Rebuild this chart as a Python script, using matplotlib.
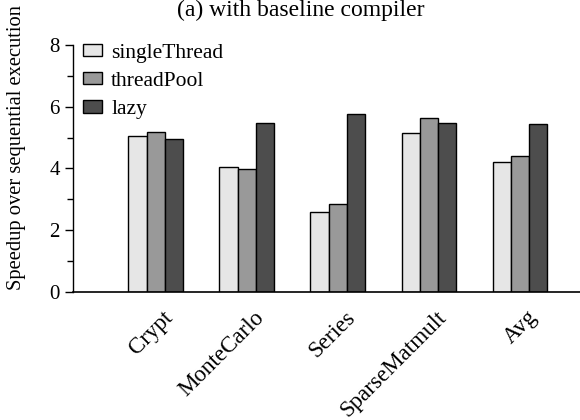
import matplotlib
matplotlib.use('Agg')
import matplotlib.pyplot as plt
from matplotlib.ticker import MultipleLocator
from matplotlib.transforms import ScaledTranslation
import numpy as np

plt.rcParams['font.family'] = ['Liberation Serif', 'DejaVu Serif']

# --- Data ---
benchmarks = ['Crypt', 'MonteCarlo', 'Series', 'SparseMatmult', 'Avg']
single_thread = [5.05, 4.05, 2.60, 5.15, 4.21]
thread_pool   = [5.18, 3.97, 2.85, 5.64, 4.41]
lazy          = [4.96, 5.48, 5.76, 5.48, 5.43]

series = [('singleThread', single_thread, '#e6e6e6'),
          ('threadPool', thread_pool, '#999999'),
          ('lazy', lazy, '#4d4d4d')]

# --- Figure ---
fig = plt.figure(figsize=(5.8, 4.2), dpi=100)
ax = fig.add_axes([0.126, 0.305, 0.874, 0.588])

x = np.arange(len(benchmarks))
width = 0.2
for k, (name, vals, color) in enumerate(series):
    ax.bar(x + (k - 1) * width, vals, width, label=name, color=color,
           edgecolor='black', linewidth=1.0)

ax.set_xlim(-0.907, 4.66)
ax.set_ylim(0, 8)
ax.yaxis.set_major_locator(MultipleLocator(2))
ax.yaxis.set_minor_locator(MultipleLocator(1))
ax.tick_params(axis='y', which='major', direction='out', length=6, width=1, labelsize=15)
ax.tick_params(axis='y', which='minor', direction='out', length=4, width=1)
ax.tick_params(axis='x', length=0, labelsize=16.6)

ax.set_xticks(x)
ax.set_xticklabels(benchmarks, rotation=45, ha='right', rotation_mode='anchor')
shift = ScaledTranslation(7 / 100, -10 / 100, fig.dpi_scale_trans)
for lbl in ax.get_xticklabels():
    lbl.set_transform(lbl.get_transform() + shift)

ax.spines['top'].set_visible(False)
ax.spines['right'].set_visible(False)
ax.spines['left'].set_linewidth(1)
ax.spines['bottom'].set_linewidth(1.2)

ax.set_ylabel('Speedup over sequential execution', fontsize=14.8)
ax.yaxis.set_label_coords(-0.093, 0.585)
fig.text(0.518, 1.0, '(a) with baseline compiler', ha='center', va='top', fontsize=17)

ax.legend(loc='upper left', frameon=False, fontsize=15.5, handlelength=0.85,
          handleheight=0.5, handletextpad=0.45, labelspacing=0.43,
          borderaxespad=0.0, bbox_to_anchor=(0.003, 1.04))

fig.savefig('out.png', dpi=100)
